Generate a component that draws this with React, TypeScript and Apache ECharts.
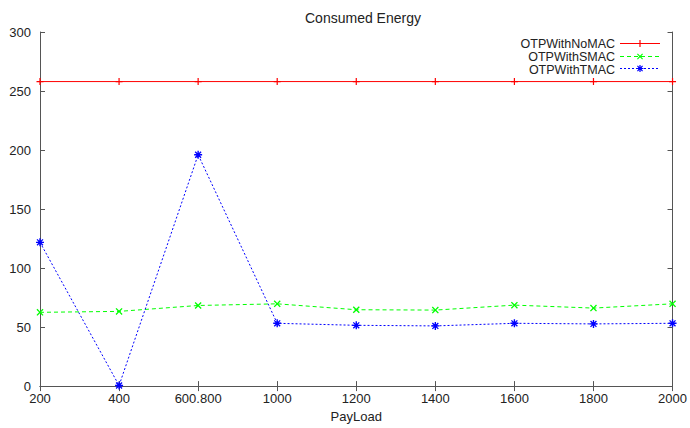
import React, { useEffect, useRef } from "react";
import * as echarts from "echarts";

const categories = ["200", "400", "600.800", "1000", "1200", "1400", "1600", "1800", "2000"];
const noMac = [258, 258, 258, 258, 258, 258, 258, 258, 258];
const sMac = [62.5, 63.3, 68.3, 69.7, 64.7, 64.4, 68.6, 66.1, 69.7];
const tMac = [121.8, 0.5, 196, 53.2, 51.5, 51, 53.2, 52.7, 53.2];
const seriesNames = ["OTPWithNoMAC", "OTPWithSMAC", "OTPWithTMAC"];
const yTicks = { min: 0, max: 300, interval: 50 };

const FONT = "Liberation Sans, Arial, Helvetica, sans-serif";
const AXIS_COLOR = "#555";

const RED = "#ff0000";
const GREEN = "#00ff00";
const BLUE = "#0000ff";
const GREEN_DASH = [4, 3];
const BLUE_DOT = [2, 2];

type Pt = [number, number];
function plusPts(r: number, t: number): Pt[] {
  return [
    [-t, -r], [t, -r], [t, -t], [r, -t], [r, t], [t, t], [t, r], [-t, r], [-t, t], [-r, t], [-r, -t], [-t, -t],
  ];
}
function crossPts(a: number, b: number): Pt[] {
  return [
    [-a, -a + b], [-a + b, -a], [0, -b], [a - b, -a], [a, -a + b], [b, 0],
    [a, a - b], [a - b, a], [0, b], [-a + b, a], [-a, a - b], [-b, 0],
  ];
}
function toPath(p: Pt[]) {
  return "M" + p.map(([x, y]) => `${x},${y}`).join("L") + "Z";
}
const squarePts: Pt[] = [[-1.6, -1.6], [1.6, -1.6], [1.6, 1.6], [-1.6, 1.6]];

const PLUS = "path://" + toPath(plusPts(3.5, 0.6));
const CROSS = "path://" + toPath(crossPts(3, 0.8));
const STAR = "path://" + toPath(plusPts(3.5, 0.6)) + toPath(crossPts(3, 0.8)) + toPath(squarePts);

const LEG_RIGHT = 30;
const LEG_TOP = 37;
const LEG_ICON_W = 40;
const LEG_ROW = 12.5;

export default function App() {
  const ref = useRef<HTMLDivElement>(null);
  useEffect(() => {
    if (!ref.current) return;
    const chart = echarts.init(ref.current, null, { renderer: "svg" });
    const tickStyle = { show: true, inside: true, length: 5, lineStyle: { color: AXIS_COLOR, width: 1 } };
    const lineAxis = { show: true, lineStyle: { color: AXIS_COLOR, width: 1 } };

    const W = 690;
    const x1 = W - LEG_RIGHT - LEG_ICON_W;
    const x2 = W - LEG_RIGHT;
    const cx = (x1 + x2) / 2;
    const legendSamples = [
      { color: RED, dash: null as number[] | null, marker: [plusPts(3.5, 0.6)] },
      { color: GREEN, dash: GREEN_DASH, marker: [crossPts(3, 0.8)] },
      { color: BLUE, dash: BLUE_DOT, marker: [plusPts(3.5, 0.6), crossPts(3, 0.8), squarePts] },
    ];
    const graphics: any[] = [];
    legendSamples.forEach((s, i) => {
      const cy = Math.round(LEG_TOP + LEG_ROW / 2 + LEG_ROW * i) + 0.5;
      graphics.push({
        type: "line",
        silent: true,
        shape: { x1, y1: cy, x2, y2: cy },
        style: { stroke: s.color, lineWidth: 1, lineDash: s.dash || undefined },
      });
      s.marker.forEach((pts) => {
        graphics.push({
          type: "polygon",
          silent: true,
          shape: { points: pts.map(([x, y]) => [cx + x, cy + y]) },
          style: { fill: s.color },
        });
      });
    });

    chart.setOption({
      animation: false,
      textStyle: { fontFamily: FONT },
      title: {
        text: "Consumed Energy",
        left: 300,
        top: 6,
        textStyle: { fontSize: 14, fontWeight: "normal", color: "#222", fontFamily: FONT },
      },
      legend: {
        orient: "vertical",
        right: LEG_RIGHT,
        top: LEG_TOP,
        align: "right",
        itemWidth: LEG_ICON_W,
        itemHeight: 7,
        itemGap: 0,
        padding: 0,
        icon: "rect",
        itemStyle: { opacity: 0 },
        textStyle: { fontSize: 12.5, color: "#222", fontFamily: FONT, lineHeight: LEG_ROW },
        data: seriesNames,
      },
      graphic: graphics,
      grid: { left: 40, right: 14, top: 32, bottom: 39, containLabel: false },
      xAxis: [
        {
          type: "category",
          data: categories,
          boundaryGap: false,
          position: "bottom",
          name: "PayLoad",
          nameLocation: "middle",
          nameGap: 23,
          nameTextStyle: { fontSize: 13, color: "#222", fontFamily: FONT },
          axisLine: lineAxis,
          axisTick: { ...tickStyle, alignWithLabel: true },
          axisLabel: { fontSize: 13, color: "#222", margin: 6, fontFamily: FONT },
          splitLine: { show: false },
        },
        {
          type: "category",
          data: categories,
          boundaryGap: false,
          position: "top",
          axisLine: lineAxis,
          axisTick: { ...tickStyle, alignWithLabel: true },
          axisLabel: { show: false },
          splitLine: { show: false },
        },
      ],
      yAxis: [
        {
          type: "value",
          min: yTicks.min,
          max: yTicks.max,
          interval: yTicks.interval,
          position: "left",
          axisLine: lineAxis,
          axisTick: tickStyle,
          axisLabel: { fontSize: 13, color: "#222", margin: 9, fontFamily: FONT },
          splitLine: { show: false },
        },
        {
          type: "value",
          min: yTicks.min,
          max: yTicks.max,
          interval: yTicks.interval,
          position: "right",
          axisLine: lineAxis,
          axisTick: tickStyle,
          axisLabel: { show: false },
          splitLine: { show: false },
        },
      ],
      series: [
        {
          name: seriesNames[0],
          type: "line",
          data: noMac,
          symbol: PLUS,
          symbolSize: 7,
          color: RED,
          lineStyle: { color: RED, width: 1, type: "solid" },
          itemStyle: { color: RED },
          emphasis: { disabled: true },
        },
        {
          name: seriesNames[1],
          type: "line",
          data: sMac,
          symbol: CROSS,
          symbolSize: 7,
          color: GREEN,
          lineStyle: { color: GREEN, width: 1, type: GREEN_DASH },
          itemStyle: { color: GREEN },
          emphasis: { disabled: true },
        },
        {
          name: seriesNames[2],
          type: "line",
          data: tMac,
          symbol: STAR,
          symbolSize: 8,
          color: BLUE,
          lineStyle: { color: BLUE, width: 1, type: BLUE_DOT },
          itemStyle: { color: BLUE },
          emphasis: { disabled: true },
        },
      ],
    });
    return () => chart.dispose();
  }, []);
  return (
    <div
      ref={ref}
      style={{ position: "fixed", left: 0, top: 0, width: 690, height: 428, background: "#fff" }}
    />
  );
}
